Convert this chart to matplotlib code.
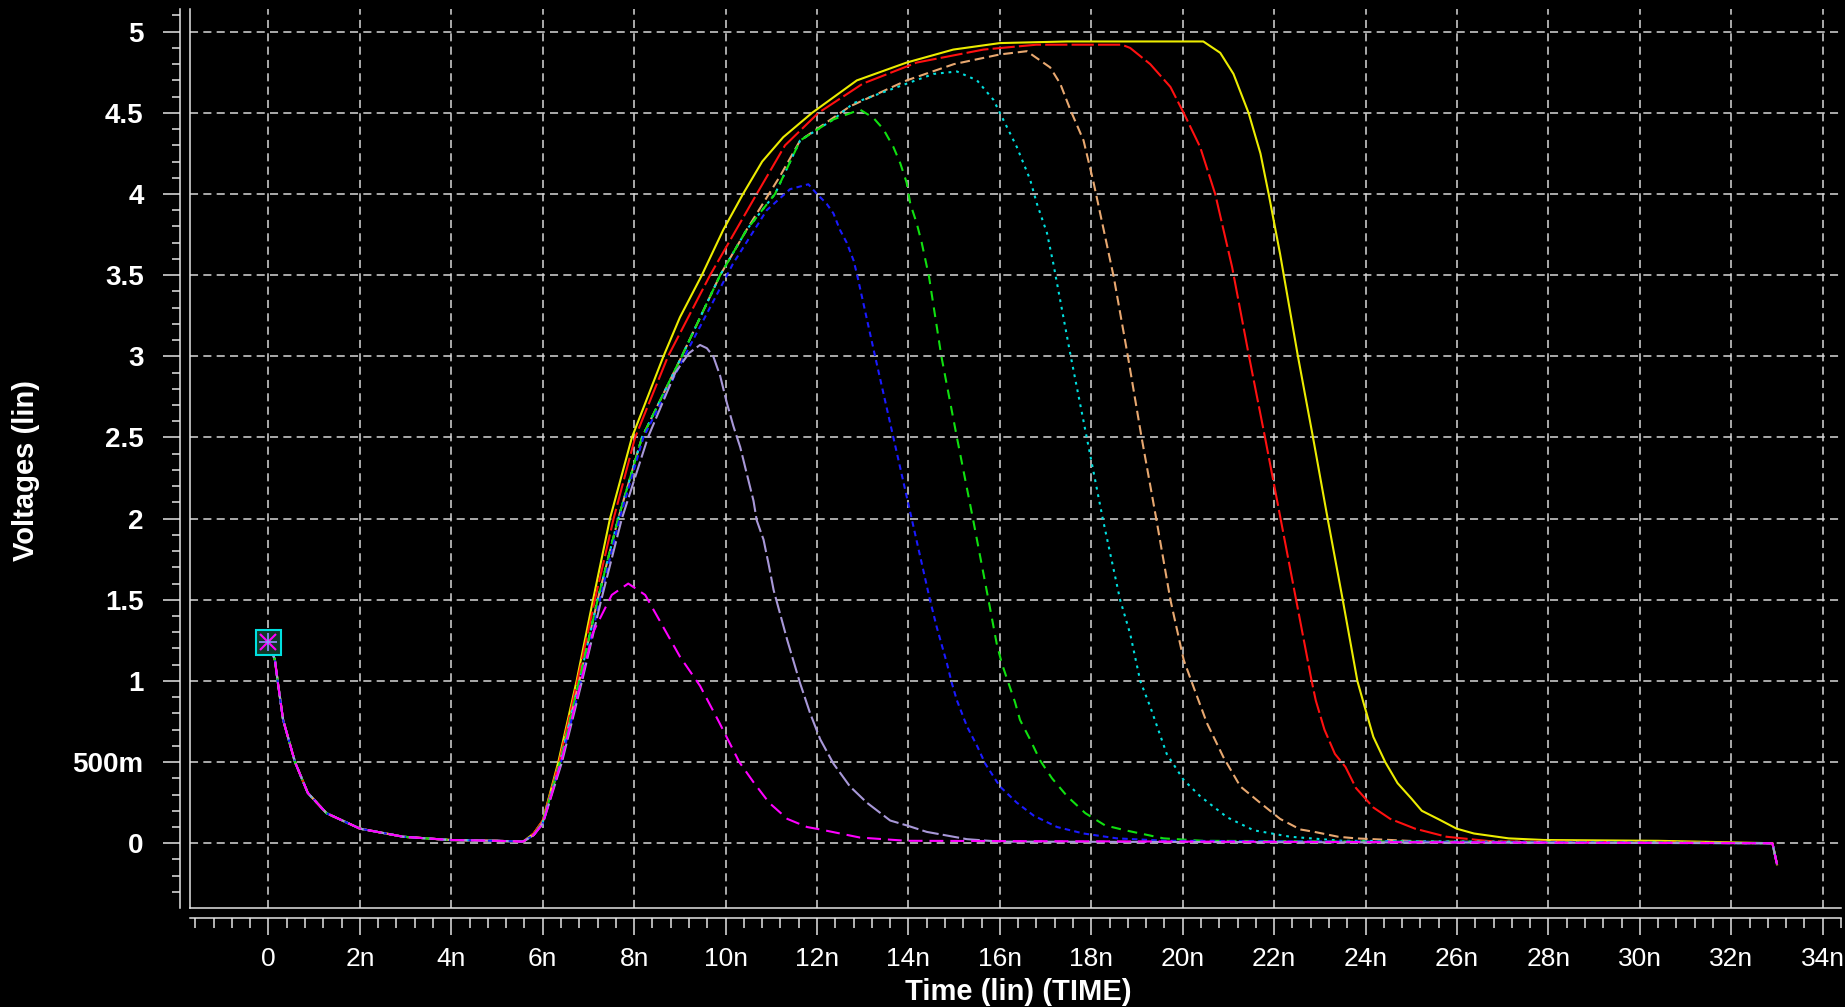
import matplotlib
matplotlib.use('Agg')
import matplotlib.pyplot as plt
from matplotlib.ticker import MultipleLocator, FuncFormatter

plt.rcParams['lines.scale_dashes'] = False
plt.rcParams['font.family'] = ['Liberation Sans', 'DejaVu Sans']

# time in ns, voltage in V
# start of every trace (all traces overlap here)
t_start = [0, 0.14, 0.2, 0.32, 0.58, 0.86, 1.27, 2.0, 2.95, 3.97, 5.0, 5.57]
v_start = [1.24, 1.13, 1.0, 0.76, 0.5, 0.31, 0.185, 0.09, 0.04, 0.02, 0.015, 0.01]
# end of every trace
t_end = [32.9, 33.0]
v_end = [0.0, -0.13]

t_yellow = [5.8, 6.0, 6.34, 6.74, 7.1, 7.47, 7.95, 8.64, 9.0, 9.48, 9.95, 10.38, 10.8, 11.26, 11.89,
            12.87, 13.96, 14.98, 16.0, 17.47, 20.45, 20.82, 21.11, 21.44, 21.7, 21.88, 22.13, 22.52,
            22.85, 23.17, 23.5, 23.82, 23.94, 24.17, 24.43, 24.7, 25.0, 25.23, 25.61, 25.99, 26.37,
            27.13, 27.9, 30.4]
v_yellow = [0.06, 0.14, 0.5, 1.0, 1.5, 2.0, 2.5, 3.0, 3.24, 3.5, 3.78, 4.0, 4.2, 4.35, 4.5,
            4.7, 4.81, 4.89, 4.93, 4.94, 4.94, 4.87, 4.74, 4.5, 4.25, 4.0, 3.63, 3.0,
            2.5, 2.0, 1.5, 1.0, 0.88, 0.655, 0.5, 0.37, 0.276, 0.2, 0.146, 0.09, 0.06,
            0.03, 0.02, 0.015]

t_red = [5.8, 6.0, 6.36, 6.76, 7.14, 7.55, 8.02, 8.74, 9.66, 10.68, 11.3, 12.03, 13.0, 14.18, 15.64,
         16.8, 18.67, 18.85, 19.29, 19.73, 20.02, 20.38, 20.71, 21.08, 21.45, 21.8, 22.14, 22.48,
         22.82, 22.91, 23.1, 23.33, 23.56, 23.79, 24.17, 24.54, 25.08, 25.77, 26.75]
v_red = [0.06, 0.14, 0.5, 1.0, 1.5, 2.0, 2.5, 3.0, 3.5, 4.0, 4.3, 4.5, 4.68, 4.81, 4.89,
         4.92, 4.92, 4.9, 4.8, 4.66, 4.5, 4.29, 4.0, 3.55, 3.0, 2.5, 2.0, 1.5,
         1.0, 0.88, 0.7, 0.55, 0.47, 0.34, 0.22, 0.15, 0.09, 0.04, 0.012]

t_tan = [5.8, 6.0, 6.38, 6.8, 7.2, 7.65, 8.17, 9.04, 9.88, 10.46, 11.19, 11.63, 12.72, 13.96, 14.99,
         16.0, 16.59, 17.1, 17.32, 17.54, 17.83, 18.05, 18.27, 18.49, 18.8, 19.1, 19.42, 19.73,
         20.02, 20.24, 20.53, 20.89, 21.26, 21.69, 22.13, 22.57, 22.88, 23.4, 23.79, 25.3]
v_tan = [0.05, 0.13, 0.5, 1.0, 1.5, 2.0, 2.5, 3.0, 3.5, 3.78, 4.11, 4.33, 4.54, 4.7, 4.8,
         4.86, 4.88, 4.78, 4.68, 4.52, 4.33, 4.07, 3.78, 3.49, 3.0, 2.5, 2.0, 1.5,
         1.13, 0.96, 0.74, 0.53, 0.35, 0.25, 0.15, 0.085, 0.07, 0.04, 0.03, 0.01]

t_cyan = [5.8, 6.0, 6.38, 6.8, 7.2, 7.65, 8.17, 9.04, 9.88, 10.46, 11.08, 11.63, 12.36, 12.8, 13.96,
          14.55, 15.06, 15.5, 15.86, 16.0, 16.37, 16.66, 16.81, 17.03, 17.17, 17.55, 17.9, 18.25,
          18.63, 18.85, 19.07, 19.29, 19.65, 20.02, 20.38, 20.97, 21.55, 22.35, 23.5]
v_cyan = [0.05, 0.13, 0.5, 1.0, 1.5, 2.0, 2.5, 3.0, 3.5, 3.78, 4.0, 4.33, 4.46, 4.56, 4.68,
          4.74, 4.755, 4.7, 4.58, 4.5, 4.29, 4.09, 3.94, 3.76, 3.57, 3.0, 2.5, 2.0,
          1.5, 1.29, 1.0, 0.84, 0.55, 0.39, 0.29, 0.16, 0.08, 0.04, 0.015]

t_green = [5.8, 6.0, 6.38, 6.8, 7.2, 7.65, 8.17, 9.04, 9.88, 10.46, 11.08, 11.63, 12.36, 12.94, 13.23,
           13.45, 13.67, 13.82, 13.96, 14.04, 14.18, 14.29, 14.45, 14.72, 15.06, 15.41, 15.75, 15.93,
           16.04, 16.19, 16.33, 16.44, 16.66, 16.88, 17.14, 17.47, 17.87, 18.3, 18.74, 19.58, 20.45]
v_green = [0.05, 0.13, 0.5, 1.0, 1.5, 2.0, 2.5, 3.0, 3.5, 3.78, 4.0, 4.33, 4.46, 4.52, 4.47,
           4.4, 4.29, 4.19, 4.07, 3.94, 3.82, 3.7, 3.49, 3.0, 2.5, 2.0, 1.5, 1.23,
           1.11, 0.985, 0.87, 0.76, 0.64, 0.51, 0.4, 0.29, 0.185, 0.11, 0.08, 0.03, 0.015]

t_blue = [5.8, 6.0, 6.4, 6.84, 7.25, 7.68, 8.2, 9.1, 10.16, 10.9, 11.41, 11.81, 12.0, 12.21, 12.36,
          12.5, 12.65, 12.8, 12.87, 13.27, 13.67, 14.07, 14.47, 14.62, 14.84, 14.95, 15.06, 15.28,
          15.5, 15.68, 16.0, 16.37, 16.74, 17.25, 17.83, 18.56, 19.65]
v_blue = [0.05, 0.12, 0.5, 1.0, 1.5, 2.0, 2.5, 3.0, 3.57, 3.9, 4.03, 4.06, 4.0, 3.94, 3.88,
          3.78, 3.7, 3.59, 3.51, 3.0, 2.5, 2.0, 1.5, 1.33, 1.11, 0.985, 0.88, 0.72,
          0.6, 0.49, 0.35, 0.25, 0.17, 0.1, 0.06, 0.03, 0.015]

t_lavender = [5.8, 6.0, 6.42, 6.86, 7.28, 7.73, 8.3, 8.9, 9.2, 9.44, 9.59, 9.73, 9.88, 10.03, 10.17,
              10.32, 10.46, 10.61, 10.68, 10.83, 10.94, 11.05, 11.35, 11.63, 11.85, 12.07, 12.36,
              12.72, 13.09, 13.6, 13.96, 14.4, 15.28, 16.0]
v_lavender = [0.05, 0.12, 0.5, 1.0, 1.5, 2.0, 2.5, 2.9, 3.02, 3.07, 3.05, 3.0, 2.88, 2.71, 2.57,
              2.44, 2.28, 2.11, 1.99, 1.87, 1.72, 1.56, 1.25, 0.985, 0.8, 0.64, 0.49,
              0.35, 0.25, 0.14, 0.11, 0.07, 0.025, 0.01]

t_magenta = [5.8, 6.0, 6.4, 6.84, 7.1, 7.51, 7.87, 8.24, 8.6, 9.0, 9.44, 9.85, 10.3, 10.6, 10.95,
             11.35, 11.78, 12.07, 12.94, 13.96]
v_magenta = [0.05, 0.12, 0.5, 1.0, 1.3, 1.53, 1.6, 1.53, 1.35, 1.15, 0.97, 0.75, 0.5, 0.38, 0.25,
             0.15, 0.1, 0.085, 0.035, 0.015]

traces = [
    (t_yellow, v_yellow, '#ecec00', None),
    (t_red, v_red, '#ff1010', (16, 3)),
    (t_tan, v_tan, '#e8a870', (7, 3.5)),
    (t_cyan, v_cyan, '#00e0e0', (2, 3.5)),
    (t_green, v_green, '#10e010', (7, 5)),
    (t_blue, v_blue, '#1a1aff', (4, 3)),
    (t_lavender, v_lavender, '#a898d8', (12, 3)),
    (t_magenta, v_magenta, '#ff00ff', (10, 5)),
]

fg = '#e4e4e4'
fig = plt.figure(figsize=(18.45, 10.07), dpi=100, facecolor='black')
ax = fig.add_axes([190 / 1845, 99 / 1007, 1651 / 1845, 899 / 1007], facecolor='black')

for t_mid, v_mid, color, dash in traces:
    t = t_start + t_mid + t_end
    v = v_start + v_mid + v_end
    line, = ax.plot(t, v, color=color, lw=1.5)
    if dash:
        line.set_dashes(dash)

# start marker (all traces overlap at t=0)
ax.plot(t_start[0], v_start[0], marker='s', ms=18, mfc='#103828', mec='#00e0e0', mew=1.5)
ax.plot(t_start[0], v_start[0], marker='x', ms=11, mec='#ff00ff', mew=1.5)
ax.plot(t_start[0], v_start[0], marker='+', ms=13, mec='#9090ff', mew=1.2)

ax.set_xlim(-1.717, 34.40)
ax.set_ylim(-0.399, 5.14)

ax.xaxis.set_major_locator(MultipleLocator(2))
ax.xaxis.set_minor_locator(MultipleLocator(0.4))
ax.yaxis.set_major_locator(MultipleLocator(0.5))
ax.yaxis.set_minor_locator(MultipleLocator(0.1))

def fmt_y(v, pos):
    if abs(v) < 1e-9:
        return '0'
    if abs(v - 0.5) < 1e-9:
        return '500m'
    return f'{v:g}'

def fmt_x(v, pos):
    if abs(v) < 1e-9:
        return '0'
    return f'{int(round(v))}n'

ax.yaxis.set_major_formatter(FuncFormatter(fmt_y))
ax.xaxis.set_major_formatter(FuncFormatter(fmt_x))

ax.grid(True, which='major', color='#d8d8d8', lw=1.1, linestyle=(0, (5.8, 3.8)))

for s in ['top', 'right']:
    ax.spines[s].set_visible(False)
for s in ['left', 'bottom']:
    ax.spines[s].set_position(('outward', 7.2))
    ax.spines[s].set_color(fg)
    ax.spines[s].set_linewidth(1.1)

# inner frame lines
ax.plot([0, 0], [0, 1], transform=ax.transAxes, color=fg, lw=1.1, clip_on=False)
ax.plot([0, 1], [0, 0], transform=ax.transAxes, color=fg, lw=1.1, clip_on=False)

ax.tick_params(axis='y', which='major', direction='out', length=12.2, width=1.1, color=fg,
               labelcolor='white', labelsize=20, pad=14)
ax.tick_params(axis='y', which='minor', direction='out', length=5.8, width=1.1, color=fg)
ax.tick_params(axis='x', which='major', direction='out', length=12.2, width=1.1, color=fg,
               labelcolor='white', labelsize=19, pad=9)
ax.tick_params(axis='x', which='minor', direction='out', length=7.2, width=1.1, color=fg)
for lab in ax.get_yticklabels():
    lab.set_fontweight('bold')

fig.text(26 / 1845, 1 - 470 / 1007, 'Voltages (lin)', rotation=90, color='white',
         fontsize=21, fontweight='bold', ha='center', va='center')
fig.text(1018 / 1845, 1 - 992 / 1007, 'Time (lin) (TIME)', color='white',
         fontsize=21, fontweight='bold', ha='center', va='center')

fig.savefig('out.png', dpi=100, facecolor='black')
